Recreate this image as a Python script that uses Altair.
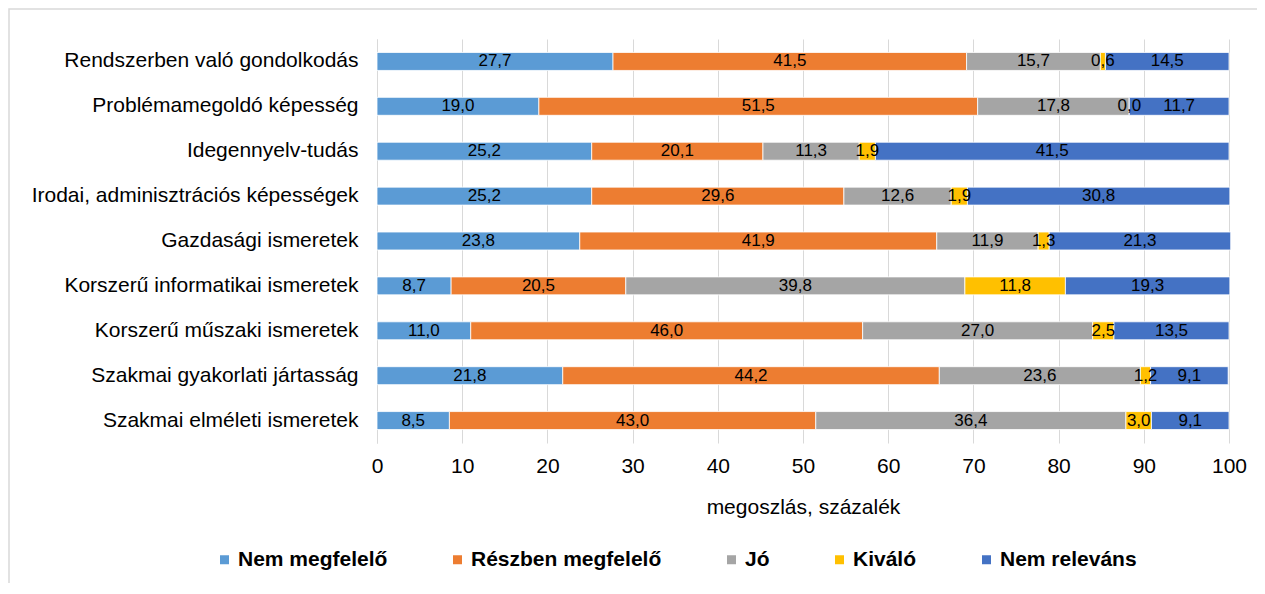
import altair as alt
import pandas as pd

categories = [
    "Rendszerben való gondolkodás",
    "Problémamegoldó képesség",
    "Idegennyelv-tudás",
    "Irodai, adminisztrációs képességek",
    "Gazdasági ismeretek",
    "Korszerű informatikai ismeretek",
    "Korszerű műszaki ismeretek",
    "Szakmai gyakorlati jártasság",
    "Szakmai elméleti ismeretek",
]
series = ["Nem megfelelő", "Részben megfelelő", "Jó", "Kiváló", "Nem releváns"]
colors = ["#5B9BD5", "#ED7D31", "#A5A5A5", "#FFC000", "#4472C4"]

nem_megfelelo = [27.7, 19.0, 25.2, 25.2, 23.8, 8.7, 11.0, 21.8, 8.5]
reszben_megfelelo = [41.5, 51.5, 20.1, 29.6, 41.9, 20.5, 46.0, 44.2, 43.0]
jo = [15.7, 17.8, 11.3, 12.6, 11.9, 39.8, 27.0, 23.6, 36.4]
kivalo = [0.6, 0.0, 1.9, 1.9, 1.3, 11.8, 2.5, 1.2, 3.0]
nem_relevans = [14.5, 11.7, 41.5, 30.8, 21.3, 19.3, 13.5, 9.1, 9.1]

values = [nem_megfelelo, reszben_megfelelo, jo, kivalo, nem_relevans]
rows = []
for si, (s, vals) in enumerate(zip(series, values)):
    for c, v in zip(categories, vals):
        rows.append({"cat": c, "series": s, "order": si, "value": v})
df = pd.DataFrame(rows)

FONT = "Liberation Sans"

base = (
    alt.Chart(df)
    .transform_stack(
        stack="value", groupby=["cat"], as_=["x0", "x1"], sort=[alt.SortField("order")]
    )
    .transform_calculate(
        mid="(datum.x0 + datum.x1) / 2",
        lbl="replace(format(datum.value, '.1f'), '.', ',')",
    )
)

yenc = alt.Y(
    "cat:N",
    sort=categories,
    scale=alt.Scale(paddingInner=0.6, paddingOuter=0.3),
    axis=alt.Axis(
        title=None,
        ticks=False,
        grid=False,
        domain=True,
        domainColor="#D9D9D9",
        domainWidth=1,
        labelFont=FONT,
        labelFontSize=21,
        labelColor="#000000",
        labelPadding=19,
        labelLimit=500,
    ),
)

bars = base.mark_bar(stroke="white", strokeWidth=0.8).encode(
    x=alt.X(
        "x0:Q",
        scale=alt.Scale(domain=[0, 100], nice=False),
        axis=alt.Axis(
            values=list(range(0, 101, 10)),
            grid=True,
            gridColor="#D9D9D9",
            gridWidth=1,
            domain=False,
            ticks=False,
            labelFlush=False,
            labelFont=FONT,
            labelFontSize=21,
            labelColor="#000000",
            labelPadding=12,
            title="megoszlás, százalék",
            titleFont=FONT,
            titleFontSize=21,
            titleFontWeight="normal",
            titleColor="#000000",
            titlePadding=20,
        ),
    ),
    x2="x1:Q",
    y=yenc,
    color=alt.Color(
        "series:N",
        scale=alt.Scale(domain=series, range=colors),
        sort=series,
        legend=alt.Legend(
            title=None,
            orient="none",
            direction="horizontal",
            legendX=-163,
            legendY=510,
            symbolType="square",
            symbolSize=81,
            symbolStrokeWidth=0,
            labelFont=FONT,
            labelFontSize=21,
            labelFontWeight="bold",
            labelColor="#000000",
            labelOffset=3,
            columnPadding=59,
            labelLimit=400,
        ),
    ),
)

texts = base.mark_text(font=FONT, fontSize=17, color="#000000", baseline="middle").encode(
    x="mid:Q",
    y=alt.Y("cat:N", sort=categories),
    text="lbl:N",
)

border_df = pd.DataFrame({"b": [1]})
border = alt.Chart(border_df).mark_rect(
    fill=None, fillOpacity=0, stroke="#D9D9D9", strokeWidth=1.5
).encode(
    x=alt.value(-368),
    x2=alt.value(1000),
    y=alt.value(-30),
    y2=alt.value(700),
)

chart = (
    alt.layer(border, bars, texts)
    .properties(
        width=852,
        height=404,
        autosize=alt.AutoSizeParams(type="none"),
        padding={"left": 369, "top": 31, "right": 28, "bottom": 140},
    )
    .configure_view(stroke=None)
)

chart.save("out.html", embed_options={"renderer": "svg", "actions": False})
